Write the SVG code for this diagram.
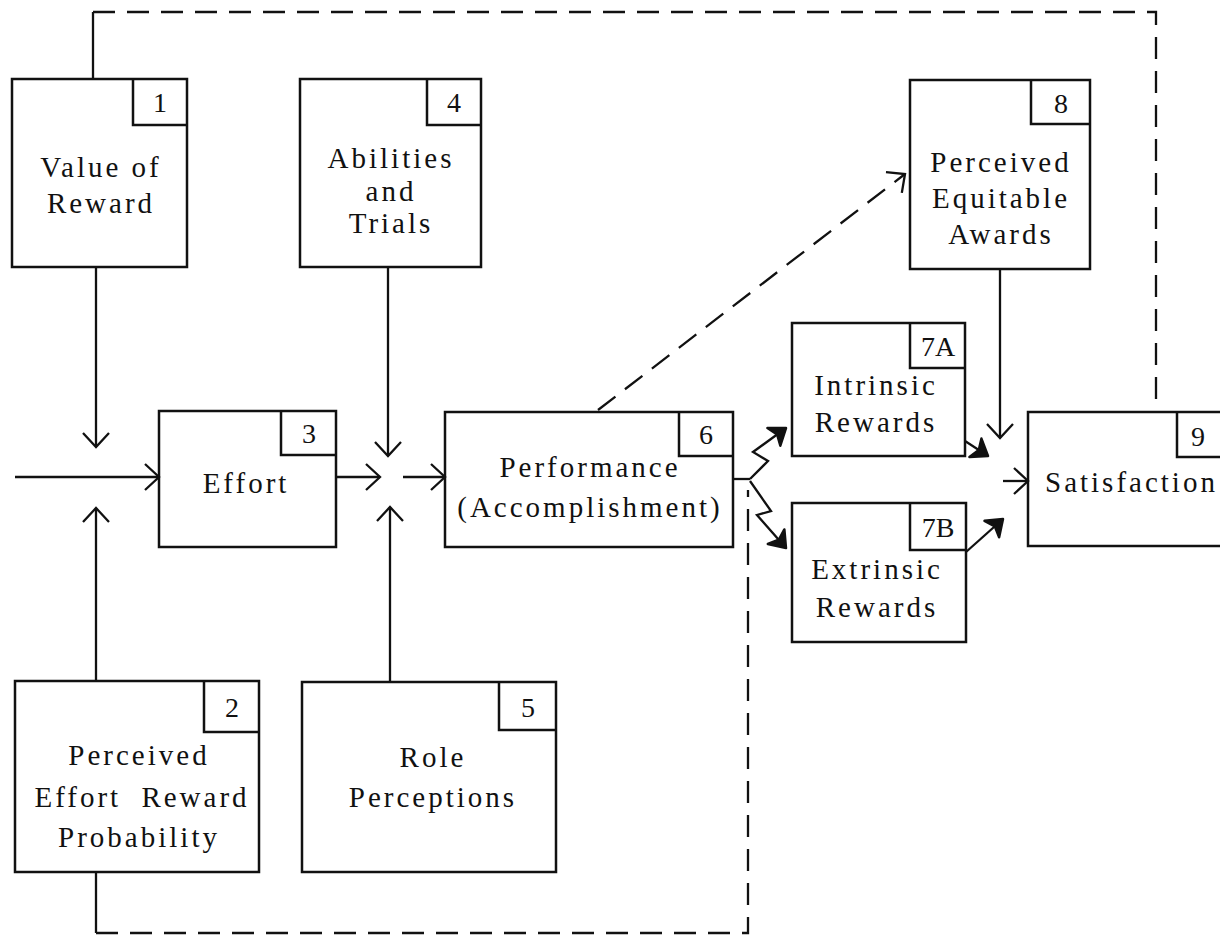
<svg xmlns="http://www.w3.org/2000/svg" width="1220" height="940" viewBox="0 0 1220 940">
<style>
.box{fill:none;stroke:#111;stroke-width:2.5}
.nb{fill:none;stroke:#111;stroke-width:2.5}
.t{font-family:"Liberation Serif",serif;font-size:29px;letter-spacing:3px;fill:#111;text-anchor:middle}
.n{font-family:"Liberation Serif",serif;font-size:28px;fill:#111;text-anchor:middle}
.c{fill:none;stroke:#111;stroke-width:2.3}
.d{fill:none;stroke:#111;stroke-width:2.3;stroke-dasharray:22 12}
.ar{marker-end:url(#open)}
.ab{marker-end:url(#bold)}
</style>
<defs>
<marker id="open" markerUnits="userSpaceOnUse" markerWidth="40" markerHeight="40" viewBox="-20 -20 40 40" refX="0" refY="0" orient="auto">
<path d="M-14,-13 L0,0 L-14,13" fill="none" stroke="#111" stroke-width="2.3"/>
</marker>
<marker id="bold" markerUnits="userSpaceOnUse" markerWidth="40" markerHeight="40" viewBox="-20 -20 40 40" refX="0" refY="0" orient="auto">
<path d="M-15,-11 L0,0 L-15,11 L-11,0 z" fill="#111" stroke="#111" stroke-width="2.5" stroke-linejoin="round"/>
</marker>
</defs>
<rect width="1220" height="940" fill="#fff"/>

<g id="connectors">
<path class="c" d="M93,79 V12"/>
<path class="d" d="M93,12 H1156 V412"/>
<path class="c" d="M96,872 V933"/>
<path class="d" d="M96,933 H748 V490"/>
<path class="d ar" d="M598,410 L905,174"/>
<path class="c ar" d="M96,267 V447"/>
<path class="c ar" d="M96,681 V508"/>
<path class="c ar" d="M15,477 H159"/>
<path class="c ar" d="M336,477 H380"/>
<path class="c ar" d="M403,477 H445"/>
<path class="c ar" d="M388,267 V456"/>
<path class="c ar" d="M390,682 V507"/>
<path class="c" d="M733,479 H750"/>
<path class="c ab" d="M750,479 L768,461 L753,452 L786,428" stroke-width="3"/>
<path class="c ab" d="M750,481 L771,511 L757,515 L786,548" stroke-width="3"/>
<path class="c ar" d="M1000,269 V438"/>
<path class="c ab" d="M965,441 L988,456"/>
<path class="c ab" d="M966,552 L1003,519"/>
<path class="c ar" d="M1003,481 H1028"/>
</g>

<g id="node1">
<rect class="box" x="12" y="79" width="175" height="188"/>
<path class="nb" d="M133,79 V125 H187"/>
<text class="n" x="160" y="112">1</text>
<text class="t" x="101" y="177">Value of</text>
<text class="t" x="101" y="213">Reward</text>
</g>

<g id="node2">
<rect class="box" x="15" y="681" width="244" height="191"/>
<path class="nb" d="M204,681 V732 H259"/>
<text class="n" x="232" y="717">2</text>
<text class="t" x="139" y="765">Perceived</text>
<text class="t" x="142" y="807" word-spacing="10">Effort Reward</text>
<text class="t" x="139" y="847">Probability</text>
</g>

<g id="node3">
<rect class="box" x="159" y="411" width="177" height="136"/>
<path class="nb" d="M281,411 V455 H336"/>
<text class="n" x="309" y="443">3</text>
<text class="t" x="246" y="493">Effort</text>
</g>

<g id="node4">
<rect class="box" x="300" y="79" width="181" height="188"/>
<path class="nb" d="M427,79 V125 H481"/>
<text class="n" x="454" y="112">4</text>
<text class="t" x="391" y="168">Abilities</text>
<text class="t" x="391" y="201">and</text>
<text class="t" x="391" y="233">Trials</text>
</g>

<g id="node5">
<rect class="box" x="302" y="682" width="254" height="190"/>
<path class="nb" d="M499,682 V730 H556"/>
<text class="n" x="528" y="717">5</text>
<text class="t" x="433" y="767">Role</text>
<text class="t" x="433" y="807">Perceptions</text>
</g>

<g id="node6">
<rect class="box" x="445" y="412" width="288" height="135"/>
<path class="nb" d="M679,412 V456 H733"/>
<text class="n" x="706" y="444">6</text>
<text class="t" x="590" y="477">Performance</text>
<text class="t" x="590" y="517">(Accomplishment)</text>
</g>

<g id="node7a">
<rect class="box" x="792" y="323" width="173" height="133"/>
<path class="nb" d="M910,323 V368 H965"/>
<text class="n" x="938" y="356">7A</text>
<text class="t" x="876" y="395">Intrinsic</text>
<text class="t" x="876" y="432">Rewards</text>
</g>

<g id="node7b">
<rect class="box" x="792" y="503" width="174" height="139"/>
<path class="nb" d="M910,503 V550 H966"/>
<text class="n" x="938" y="537">7B</text>
<text class="t" x="877" y="579">Extrinsic</text>
<text class="t" x="877" y="617">Rewards</text>
</g>

<g id="node8">
<rect class="box" x="910" y="80" width="180" height="189"/>
<path class="nb" d="M1031,80 V124 H1090"/>
<text class="n" x="1061" y="113">8</text>
<text class="t" x="1001" y="172">Perceived</text>
<text class="t" x="1001" y="208">Equitable</text>
<text class="t" x="1001" y="244">Awards</text>
</g>

<g id="node9">
<rect class="box" x="1028" y="412" width="210" height="134"/>
<path class="nb" d="M1177,412 V457 H1238"/>
<text class="n" x="1198" y="446">9</text>
<text class="t" x="1045" y="492" style="text-anchor:start">Satisfaction</text>
</g>
</svg>
